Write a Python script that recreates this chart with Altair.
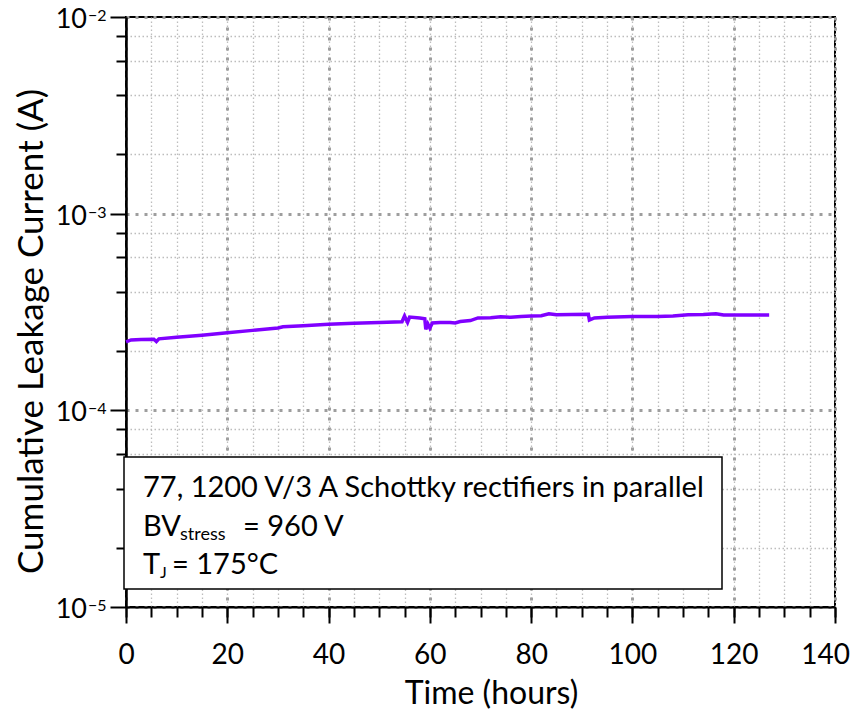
import altair as alt
import pandas as pd

# ---- data ----
time_h = [0, 1, 3, 5.5, 6, 6.5, 10, 15, 20, 25, 30, 31, 35, 40, 45, 50,
          54.5, 55, 55.6, 56, 58, 59, 59.2, 59.6, 60, 60.5,
          62, 64, 65, 66, 68, 69.5, 72, 74, 76, 78,
          80, 82, 83.5, 85, 88, 91.3, 91.5, 92.5, 95, 100,
          105, 108, 111, 114, 116.5, 118, 122, 127]
current_a = [2.23e-4, 2.28e-4, 2.29e-4, 2.30e-4, 2.24e-4, 2.31e-4,
             2.35e-4, 2.41e-4, 2.48e-4, 2.55e-4, 2.62e-4, 2.66e-4, 2.69e-4, 2.74e-4, 2.77e-4, 2.80e-4,
             2.82e-4, 3.02e-4, 2.80e-4, 2.98e-4, 2.95e-4, 2.92e-4, 2.58e-4, 2.75e-4, 2.62e-4, 2.78e-4,
             2.80e-4, 2.80e-4, 2.78e-4, 2.83e-4, 2.86e-4, 2.95e-4, 2.96e-4, 2.99e-4, 2.97e-4, 3.00e-4,
             3.02e-4, 3.03e-4, 3.10e-4, 3.06e-4, 3.07e-4, 3.08e-4, 2.88e-4, 2.95e-4, 2.97e-4, 3.00e-4,
             3.00e-4, 3.02e-4, 3.06e-4, 3.07e-4, 3.10e-4, 3.05e-4, 3.05e-4, 3.05e-4]

x_major = [0, 20, 40, 60, 80, 100, 120, 140]
x_last = [140]
x_minor = list(range(0, 141, 5))
y_major = [1e-5, 1e-4, 1e-3, 1e-2]
y_major_exp = ["\u22125", "\u22124", "\u22123", "\u22122"]
y_minor = [m * d for d in (1e-5, 1e-4, 1e-3) for m in (2, 4, 6, 8)]

line_text = "77, 1200 V/3 A Schottky rectifiers in parallel"

FONT = "Lato"

df = pd.DataFrame({"t": time_h, "i": current_a})
ylab = pd.DataFrame({"v": y_major, "e": y_major_exp})
xlast = pd.DataFrame({"t": x_last, "s": [str(v) for v in x_last]})

xs = alt.Scale(domain=[0, 140], nice=False, zero=False)
ys = alt.Scale(type="log", domain=[1e-5, 1e-2], nice=False)

base = alt.Chart(df)

minor_axes = base.mark_line(opacity=0).encode(
    x=alt.X("t:Q", scale=xs, axis=alt.Axis(
        orient="bottom", values=x_minor, labels=False, title=None,
        tickSize=10, tickWidth=2, tickColor="black", domain=False,
        grid=True, gridColor="#bdbdbd", gridDash=[1.5, 2.5], gridWidth=1.3)),
    y=alt.Y("i:Q", scale=ys, axis=alt.Axis(
        orient="left", values=y_minor, labels=False, title=None,
        tickSize=10, tickWidth=2, tickColor="black", domain=False,
        grid=True, gridColor="#bdbdbd", gridDash=[1.5, 2.5], gridWidth=1.3)),
)

major_axes = base.mark_line(opacity=0).encode(
    x=alt.X("t:Q", scale=xs, axis=alt.Axis(
        orient="bottom", values=x_major, title="Time (hours)",
        labelExpr="datum.value == 140 ? '' : datum.label",
        tickSize=16, tickWidth=2, tickColor="black",
        domain=True, domainColor="black", domainWidth=2,
        labelFont=FONT, labelFontSize=28, labelColor="black", labelPadding=18,
        labelFlush=False,
        titleFont=FONT, titleFontSize=32, titleFontWeight="normal", titleColor="black",
        titleX=365, titleY=86, titleBaseline="middle", titleAlign="center",
        grid=True, gridColor="#9e9e9e", gridDash=[3, 7], gridWidth=3)),
    y=alt.Y("i:Q", scale=ys, axis=alt.Axis(
        orient="left", values=y_major, labels=False, title="Cumulative Leakage Current (A)",
        tickSize=16, tickWidth=2, tickColor="black",
        domain=True, domainColor="black", domainWidth=2.5,
        titleFont=FONT, titleFontSize=35, titleFontWeight="normal", titleColor="black",
        titleX=-95, titleY=314, titleAngle=270, titleBaseline="middle", titleAlign="center",
        grid=True, gridColor="#9e9e9e", gridDash=[3, 6], gridWidth=3)),
)

series = base.mark_line(color="#8000ff", strokeWidth=3.5).encode(
    x=alt.X("t:Q", scale=xs, axis=None),
    y=alt.Y("i:Q", scale=ys, axis=None),
)

last_label = alt.Chart(xlast).mark_text(
    font=FONT, fontSize=28, align="right", baseline="top", dx=15, color="black"
).encode(x=alt.X("t:Q", scale=xs, axis=None), y=alt.value(624 - 17 + 18), text="s:N")

lab_ten = alt.Chart(ylab).mark_text(
    text="10", font=FONT, fontSize=27, align="right", baseline="alphabetic", dy=11, color="black"
).encode(x=alt.value(-39), y=alt.Y("v:Q", scale=ys, axis=None))

lab_exp = alt.Chart(ylab).mark_text(
    font=FONT, fontSize=16, align="left", baseline="alphabetic", dy=4, color="black"
).encode(x=alt.value(-38), y=alt.Y("v:Q", scale=ys, axis=None), text="e:N")

one = alt.Chart(pd.DataFrame({"k": [0]}))

box = one.mark_rect(fill="white", stroke="black", strokeWidth=1.5).encode(
    x=alt.value(-2), x2=alt.value(596), y=alt.value(440), y2=alt.value(572))

def txt(s, x, y, size=29):
    return one.mark_text(text=s, font=FONT, fontSize=size, align="left",
                         baseline="alphabetic", color="black").encode(
        x=alt.value(x), y=alt.value(y))

TX = 17
texts = [
    txt(line_text, TX, 480),
    txt("BV", TX, 519),
    txt("stress", TX + 37, 523, 18),
    txt("= 960 V", TX + 100, 519),
    txt("T", TX, 557),
    txt("J", TX + 17, 561, 16),
    txt("= 175\u00b0C", TX + 29, 557),
]

chart = alt.layer(minor_axes, major_axes, series, last_label, lab_ten, lab_exp, box, *texts).resolve_axis(
    x="independent", y="independent"
).properties(
    width=709, height=590, autosize="none",
    padding={"left": 118, "top": 9, "right": 16, "bottom": 102},
).configure_view(stroke="black", strokeWidth=2)

chart.save("out.html", embed_options={"renderer": "svg", "actions": False})
